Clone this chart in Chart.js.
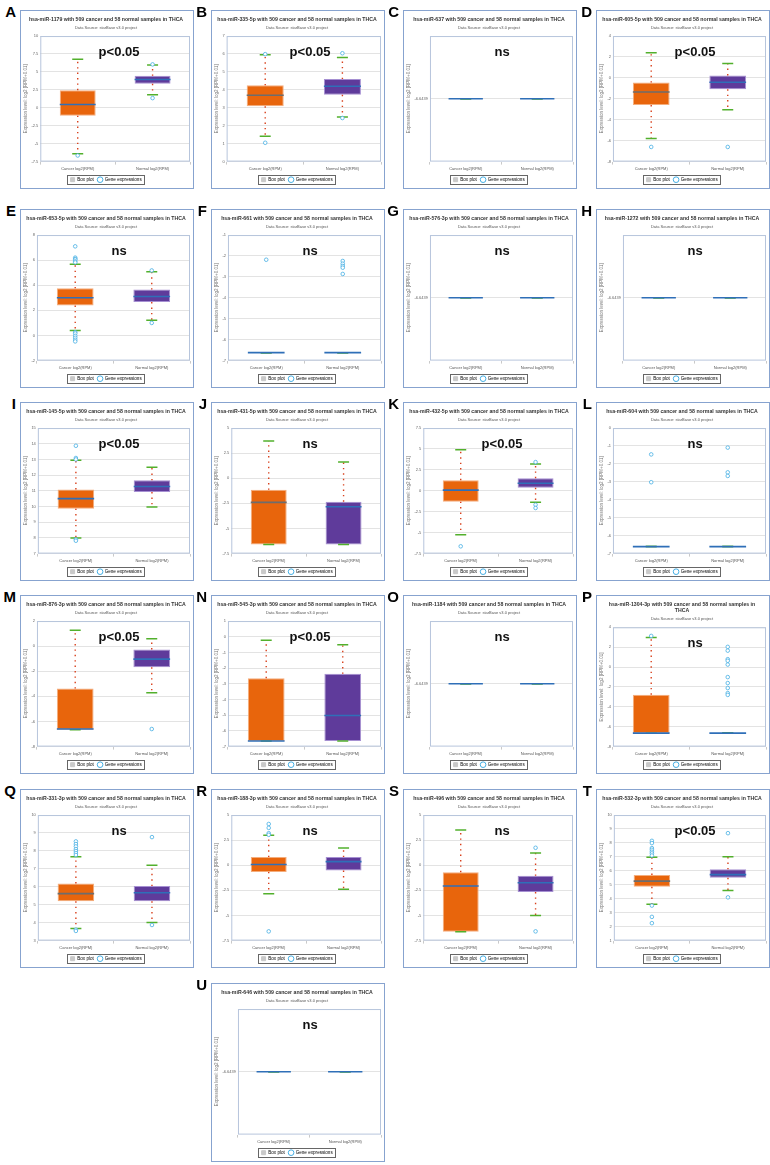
<!DOCTYPE html>
<html>
<head>
<meta charset="utf-8">
<script src="https://cdn.jsdelivr.net/npm/chart.js@4.4.1/dist/chart.umd.min.js"></script>
<style>
  body { margin: 0; background: #fff; width: 770px; height: 1165px; position: relative; overflow: hidden; }
  .panel { position: absolute; box-sizing: border-box; border: 1px solid #87a3cf; background: #fff; }
  .panel canvas { display: block; }
  .tag { position: absolute; width: 20px; text-align: right; font: bold 15px "Liberation Sans", Arial, sans-serif; line-height: 15px; color: #000; }
</style>
</head>
<body>
<script>
const panelTags = ['A','B','C','D','E','F','G','H','I','J','K','L','M','N','O','P','Q','R','S','T','U'];
const mirNames = ['hsa-miR-1179','hsa-miR-335-5p','hsa-miR-637','hsa-miR-605-5p','hsa-miR-653-5p','hsa-miR-661',
  'hsa-miR-576-3p','hsa-miR-1272','hsa-miR-145-5p','hsa-miR-431-5p','hsa-miR-432-5p','hsa-miR-604',
  'hsa-miR-876-3p','hsa-miR-545-3p','hsa-miR-1184','hsa-miR-1304-3p','hsa-miR-331-3p','hsa-miR-188-3p',
  'hsa-miR-496','hsa-miR-532-3p','hsa-miR-646'];
const pTexts = ['p<0.05','p<0.05','ns','p<0.05','ns','ns','ns','ns','p<0.05','ns','p<0.05','ns',
  'p<0.05','p<0.05','ns','ns','ns','ns','ns','p<0.05','ns'];
const groups = ['Cancer log2(RPM)', 'Normal log2(RPM)'];

// y axis [min, max, step]; step null -> only one tick, at the flat value
const yAxes = [[-7.5,10,2.5],[0,7,1],[-7.6439,-5.6439,null],[-8,4,2],[-2,8,2],[-7,-1,1],
  [-7.6439,-5.6439,null],[-7.6439,-5.6439,null],[7,15,1],[-7.5,5,2.5],[-7.5,7.5,2.5],[-7,0,1],
  [-8,2,2],[-7,1,1],[-7.6439,-5.6439,null],[-8,4,2],[3,10,1],[-7.5,5,2.5],[-7.5,5,2.5],[1,10,1],
  [-7.6439,-5.6439,null]];

// [lower whisker, q1, median, q3, upper whisker]
const cancerStats = [
  [-6.4,-1.1,0.45,2.45,6.75], [1.42,3.08,3.7,4.25,5.95], [-6.6439,-6.6439,-6.6439,-6.6439,-6.6439],
  [-5.8,-2.6,-1.35,-0.45,2.4], [0.39,2.39,3.0,3.76,5.68], [-6.62,-6.62,-6.62,-6.62,-6.62],
  [-6.6439,-6.6439,-6.6439,-6.6439,-6.6439], [-6.6439,-6.6439,-6.6439,-6.6439,-6.6439],
  [7.99,9.86,10.5,11.09,12.94], [-6.6,-6.6,-2.4,-1.15,3.72], [-5.25,-1.3,0.08,1.26,4.9],
  [-6.61,-6.61,-6.61,-6.61,-6.61], [-6.65,-6.65,-6.6,-3.38,1.27], [-6.65,-6.65,-6.64,-2.64,-0.23],
  [-6.6439,-6.6439,-6.6439,-6.6439,-6.6439], [-6.66,-6.66,-6.64,-2.78,2.97], [3.68,5.19,5.62,6.19,7.68],
  [-2.83,-0.66,0.07,0.82,2.99], [-6.61,-6.61,-2.07,-0.69,3.52], [3.6,4.86,5.26,5.71,6.97],
  [-6.6439,-6.6439,-6.6439,-6.6439,-6.6439]
];
const normalStats = [
  [1.8,3.35,3.95,4.45,5.95], [2.49,3.72,4.2,4.6,5.8], [-6.6439,-6.6439,-6.6439,-6.6439,-6.6439],
  [-3.04,-1.09,-0.42,0.24,1.38], [1.21,2.66,3.1,3.66,5.08], [-6.62,-6.62,-6.62,-6.62,-6.62],
  [-6.6439,-6.6439,-6.6439,-6.6439,-6.6439], [-6.6439,-6.6439,-6.6439,-6.6439,-6.6439],
  [9.97,10.92,11.28,11.67,12.5], [-6.6,-6.6,-2.83,-2.34,1.61], [-1.38,0.36,0.91,1.5,3.2],
  [-6.61,-6.61,-6.61,-6.61,-6.61], [-3.71,-1.69,-1.03,-0.26,0.58], [-6.65,-6.65,-5.02,-2.36,-0.51],
  [-6.6439,-6.6439,-6.6439,-6.6439,-6.6439], [-6.64,-6.64,-6.64,-6.64,-6.64], [4.01,5.19,5.67,6.04,7.2],
  [-2.4,-0.53,0.36,0.82,1.71], [-5.0,-2.66,-1.74,-1.05,1.22], [4.6,5.5,5.73,6.11,7.01],
  [-6.6439,-6.6439,-6.6439,-6.6439,-6.6439]
];
const cancerOut = [
  [-6.65], [5.99,1.05], [], [-6.6],
  [7.1,6.2,6.1,6.05,5.9,5.82,0.26,0.16,-0.03,-0.18,-0.34,-0.47], [-2.18], [], [],
  [13.87,13.09,13.0,7.9,7.82], [], [-6.63], [-1.47,-3.02],
  [], [], [], [3.13],
  [8.53,8.38,8.25,8.1,7.99,7.88,7.77,3.61,3.54], [4.11,3.72,3.19,3.03,-6.58], [],
  [8.15,7.99,7.63,7.51,7.37,7.25,7.1,3.51,2.7,2.25], []
];
const normalOut = [
  [6.05,1.35], [6.04,2.43], [], [-6.6],
  [5.18,1.0], [-2.24,-2.37,-2.48,-2.56,-2.86], [], [],
  [], [], [3.43,-1.66,-2.05], [-1.09,-2.47,-2.67],
  [-6.6], [], [], [2.03,1.65,0.79,0.63,0.25,-1.01,-1.61,-2.11,-2.62,-2.8],
  [8.77,3.87], [], [1.74,-6.58], [8.7,4.1], []
];

// cancer medians drawn grey in these panels
const greyMedian = ['B','D','J','Q','T'];

const FONT = '"Liberation Sans", Arial, sans-serif';
const colX = [20, 211, 403, 596];
const rowY = [10, 209, 402, 595, 789, 983];

// plot frame, p-value label and the boxed legend
const panelDecor = {
  id: 'panelDecor',
  beforeDatasetsDraw(chart) {
    const { ctx, chartArea: a } = chart;
    ctx.save();
    ctx.strokeStyle = '#b7c5dc';
    ctx.lineWidth = 1;
    ctx.strokeRect(a.left + 0.5, a.top + 0.5, a.width - 1, a.height - 1);
    ctx.restore();
  },
  afterDraw(chart, args, opts) {
    const { ctx, chartArea: a } = chart;
    ctx.save();
    ctx.font = 'bold 13px ' + FONT;
    ctx.fillStyle = '#111';
    ctx.textAlign = 'center';
    ctx.fillText(opts.text, chart.width * 0.57, a.top + 16);
    const hb = chart.legend.legendHitBoxes;
    if (hb && hb.length) {
      const l = Math.min(...hb.map(b => b.left)) - 3;
      const r = Math.max(...hb.map(b => b.left + b.width)) + 3;
      const t = Math.min(...hb.map(b => b.top)) - 2;
      const btm = Math.max(...hb.map(b => b.top + b.height)) + 2;
      ctx.strokeStyle = '#666';
      ctx.lineWidth = 1;
      ctx.strokeRect(Math.round(l) + 0.5, Math.round(t) + 0.5, Math.round(r - l), Math.round(btm - t));
    }
    ctx.restore();
  }
};

function whisker(g, from, to) {
  return {
    type: 'line', data: [{ x: g, y: from }, { x: g, y: to }],
    borderColor: '#d8401c', borderWidth: 1.4, borderDash: [1.4, 4], pointRadius: 0, order: 4
  };
}

function buildDatasets(i) {
  const c = cancerStats[i], n = normalStats[i];
  const medColor = greyMedian.includes(panelTags[i]) ? '#6d6d6d' : '#2f6fb8';
  const outs = cancerOut[i].map(y => ({ x: groups[0], y }))
    .concat(normalOut[i].map(y => ({ x: groups[1], y })));
  return [
    {
      type: 'bar', label: 'Box plot', data: [[c[1], c[3]], [n[1], n[3]]],
      backgroundColor: ['#e8650c', '#5f3b9b'], borderColor: ['#f4ad7c', '#a690d2'],
      borderWidth: 1, borderSkipped: false, barPercentage: 0.48, categoryPercentage: 1, order: 5
    },
    whisker(groups[0], c[3], c[4]), whisker(groups[0], c[1], c[0]),
    whisker(groups[1], n[3], n[4]), whisker(groups[1], n[1], n[0]),
    {
      type: 'line', label: 'caps', showLine: false, order: 3,
      data: [{ x: groups[0], y: c[0] }, { x: groups[0], y: c[4] }, { x: groups[1], y: n[0] }, { x: groups[1], y: n[4] }],
      pointStyle: 'line', pointRadius: 5.5, pointBorderWidth: 1.5, pointBorderColor: '#52b02c'
    },
    {
      type: 'line', label: 'median', showLine: false, order: 2,
      data: [{ x: groups[0], y: c[2] }, { x: groups[1], y: n[2] }],
      pointStyle: 'line', pointRadius: ctx => ctx.chart.chartArea ? ctx.chart.chartArea.width * 0.12 : 18,
      pointBorderWidth: 1.6, pointBorderColor: [medColor, '#2f6fb8']
    },
    {
      type: 'line', label: 'Gene expressions', showLine: false, order: 1, data: outs,
      pointStyle: 'circle', pointRadius: 1.8, pointBorderWidth: 0.8,
      pointBorderColor: '#45aee3', pointBackgroundColor: '#fff'
    }
  ];
}

panelTags.forEach((tag, i) => {
  // the lone last panel (U) sits in the second column
  const col = i === 20 ? 1 : i % 4;
  const row = Math.floor(i / 4);
  const x = colX[col], y = rowY[row];

  const label = document.createElement('div');
  label.className = 'tag';
  label.style.left = (x - 24) + 'px';
  label.style.top = (y - 6) + 'px';
  label.textContent = tag;
  document.body.appendChild(label);

  const panel = document.createElement('div');
  panel.className = 'panel';
  panel.style.left = x + 'px';
  panel.style.top = y + 'px';
  panel.style.width = '174px';
  panel.style.height = '179px';
  const canvas = document.createElement('canvas');
  canvas.width = 172;
  canvas.height = 177;
  panel.appendChild(canvas);
  document.body.appendChild(panel);

  const [yMin, yMax, yStep] = yAxes[i];
  const flatTick = cancerStats[i][2];
  let title = mirNames[i] + ' with 509 cancer and 58 normal samples in THCA';
  if (mirNames[i].length > 14) {
    title = [mirNames[i] + ' with 509 cancer and 58 normal samples in', 'THCA'];
  }

  new Chart(canvas, {
    type: 'bar',
    data: { labels: groups, datasets: buildDatasets(i) },
    options: {
      responsive: false,
      animation: false,
      events: [],
      layout: { autoPadding: false, padding: { left: 1, right: 3, bottom: -4 } },
      plugins: {
        tooltip: { enabled: false },
        title: {
          display: true, text: title, color: '#333',
          font: { size: 5.2, weight: 'bold', family: FONT }, padding: { top: 5, bottom: 2 }
        },
        subtitle: {
          display: true, text: 'Data Source: starBase v3.0 project', color: '#555',
          font: { size: 4, family: FONT }, padding: { top: 1, bottom: 6 }
        },
        legend: {
          position: 'bottom',
          labels: {
            usePointStyle: true, boxWidth: 5, boxHeight: 4, padding: 4, color: '#333',
            font: { size: 4.6, family: FONT },
            generateLabels: () => [
              { text: 'Box plot', fillStyle: '#c9c9c9', strokeStyle: '#c9c9c9', lineWidth: 1, pointStyle: 'rect', hidden: false, datasetIndex: 0 },
              { text: 'Gene expressions', fillStyle: '#fff', strokeStyle: '#45aee3', lineWidth: 1, pointStyle: 'circle', hidden: false, datasetIndex: 7 }
            ]
          }
        },
        panelDecor: { text: pTexts[i] }
      },
      scales: {
        x: {
          offset: true,
          grid: { display: true, drawOnChartArea: false, color: '#c9c9c9', tickLength: 3 },
          border: { display: false },
          ticks: { font: { size: 4, family: FONT }, color: '#555', padding: 2, maxRotation: 0 }
        },
        y: {
          min: yMin, max: yMax,
          grid: { color: '#e3e3e3', drawTicks: false },
          border: { display: false },
          ticks: {
            stepSize: yStep || undefined, font: { size: 4, family: FONT }, color: '#666', padding: 2,
            callback: v => String(Math.round(v * 10000) / 10000)
          },
          afterBuildTicks: yStep ? undefined : (s) => { s.ticks = [{ value: flatTick }]; },
          title: {
            display: true, text: 'Expression level: log2 [RPM+0.01]', color: '#777',
            font: { size: 4.5, family: FONT }, padding: 1
          }
        }
      }
    },
    plugins: [panelDecor]
  });
});
</script>
</body>
</html>
